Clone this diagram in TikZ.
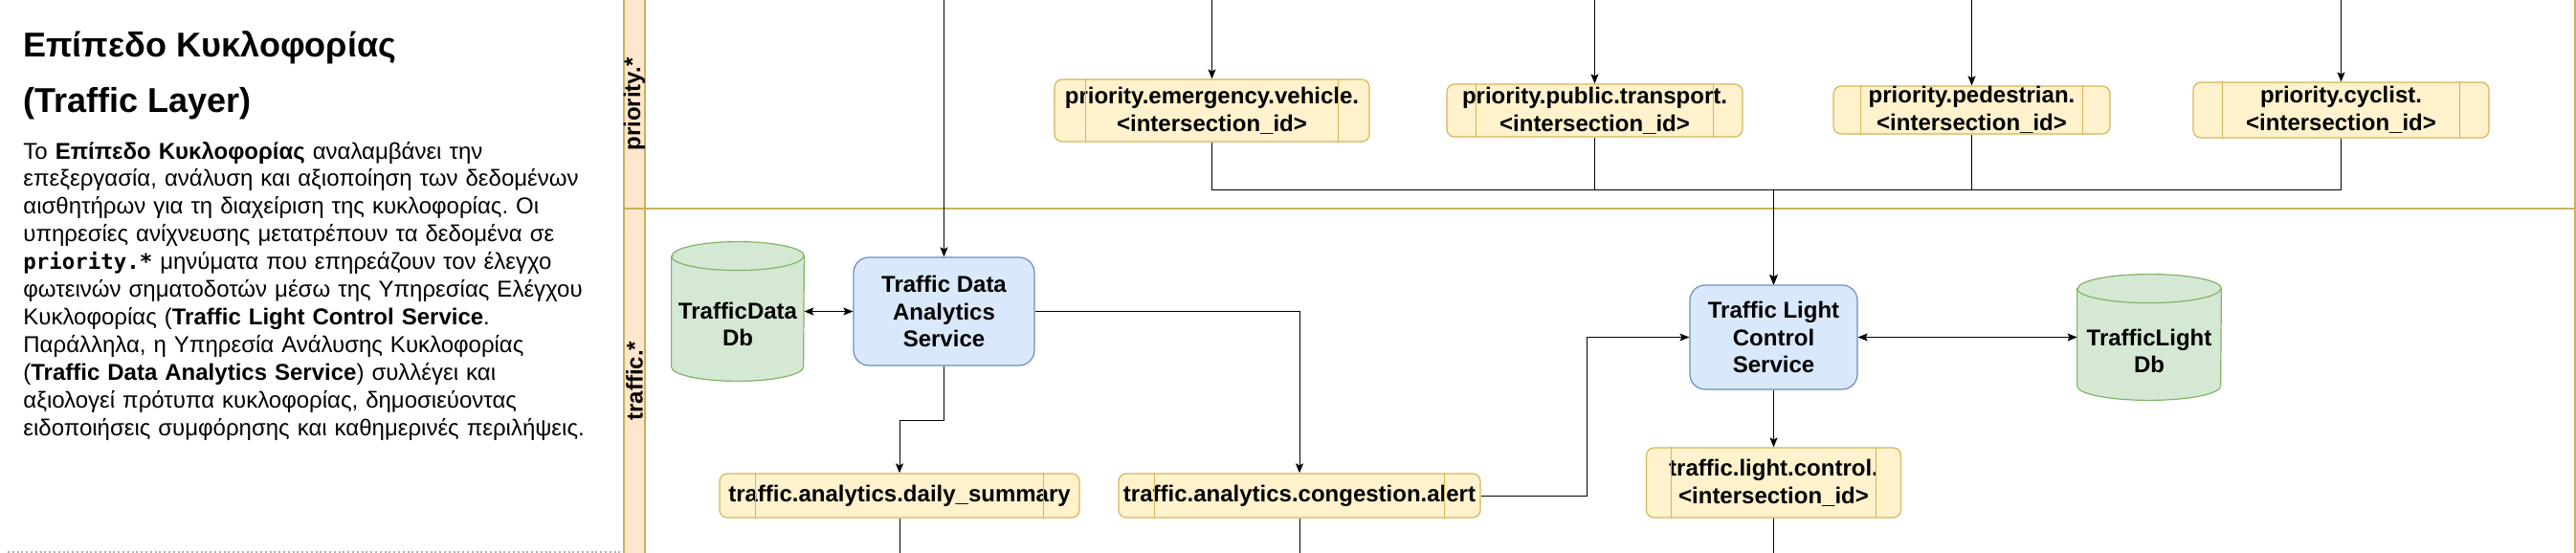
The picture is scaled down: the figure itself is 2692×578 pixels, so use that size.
\documentclass[tikz,border=0pt]{standalone}
\usepackage{fontspec}
\setmainfont{Liberation Sans}
\newfontfamily\monofont{DejaVu Sans Mono}
\usetikzlibrary{arrows.meta,calc}
\frenchspacing
\definecolor{procfill}{HTML}{FFF2CC}
\definecolor{procline}{HTML}{D6B656}
\definecolor{svcfill}{HTML}{DAE8FC}
\definecolor{svcline}{HTML}{6C8EBF}
\definecolor{dbfill}{HTML}{D5E8D4}
\definecolor{dbline}{HTML}{82B366}
\definecolor{lanefill}{HTML}{FFE6CC}
\definecolor{laneline}{HTML}{C9B25A}
\newcommand\drawcyl[3]{%
  \path[draw=dbline, fill=dbfill, line width=0.6pt]
    ($(#1.north west)+(0pt,-#3)$) -- ($(#1.south west)+(0pt,#3)$)
    arc[start angle=180,end angle=360,x radius=#2,y radius=#3]
    -- ($(#1.north east)+(0pt,-#3)$)
    arc[start angle=0,end angle=180,x radius=#2,y radius=#3] -- cycle;
  \draw[dbline, line width=0.6pt] ($(#1.north west)+(0pt,-#3)$)
    arc[start angle=180,end angle=360,x radius=#2,y radius=#3];}
\begin{document}
\begin{tikzpicture}[x=0.5pt,y=-0.5pt,
  boxfont/.style={font=\fontsize{12}{14.4}\selectfont\bfseries},
  sz/.style 2 args={minimum width=#1*0.5pt, minimum height=#2*0.5pt},
  proc/.style={draw=procline, fill=procfill, rounded corners=4pt, line width=0.6pt, align=center, inner sep=0pt, boxfont},
  svc/.style={draw=svcline, fill=svcfill, rounded corners=8pt, line width=0.6pt, align=center, inner sep=0pt, boxfont},
  cylbox/.style={inner sep=0pt},
  cyltext/.style={align=center, inner sep=0pt, boxfont},
  lanelabel/.style={rotate=90, inner sep=0pt, boxfont},
  conn/.style={line width=0.5pt, draw=black},
  tip/.tip={Stealth[length=5pt,width=4pt,inset=1pt]},
  arr/.style={conn, -tip},
  dbl/.style={conn, tip-tip},
]
\useasboundingbox (0,0) rectangle (2692,578);
\clip (0,0) rectangle (2692,578);

% lanes
\path[draw=laneline, fill=lanefill, line width=0.8pt] (652,-2) rectangle (674,600);
\draw[laneline, line width=0.8pt] (674,-2) -- (2691,-2) -- (2691,600);
\draw[laneline, line width=0.8pt] (652,218) -- (2691,218);
\node[lanelabel] (lanep) at (663,109) {priority.*};
\node[lanelabel] (lanet) at (663,398) {traffic.*};

% left text
\draw[gray!60, line width=1pt, dash pattern=on 1pt off 1.4pt] (8,577) -- (650,577);
\node[anchor=base west, inner sep=0pt, font=\fontsize{18}{29}\selectfont\bfseries] (title1) at (24,59) {Επίπεδο Κυκλοφορίας};
\node[anchor=base west, inner sep=0pt, font=\fontsize{18}{29}\selectfont\bfseries] (title2) at (24,117) {(Traffic Layer)};
\node[anchor=base west, inner sep=0pt, text width=320pt, align=left, font=\fontsize{12}{14.45}\selectfont] (body) at (24,166) {%
Το \textbf{Επίπεδο Κυκλοφορίας} αναλαμβάνει την\\
επεξεργασία, ανάλυση και αξιοποίηση των δεδομένων\\
αισθητήρων για τη διαχείριση της κυκλοφορίας. Οι\\
υπηρεσίες ανίχνευσης μετατρέπουν τα δεδομένα σε\\
{\monofont\bfseries\fontsize{11.2}{14.45}\selectfont priority.*} μηνύματα που επηρεάζουν τον έλεγχο\\
φωτεινών σηματοδοτών μέσω της Υπηρεσίας Ελέγχου\\
Κυκλοφορίας (\textbf{Traffic Light Control Service}.\\
Παράλληλα, η Υπηρεσία Ανάλυσης Κυκλοφορίας\\
(\textbf{Traffic Data Analytics Service}) συλλέγει και\\
αξιολογεί πρότυπα κυκλοφορίας, δημοσιεύοντας\\
ειδοποιήσεις συμφόρησης και καθημερινές περιλήψεις.};

% priority topics
\node[proc, sz={329}{65}] (em) at (1266.5,115.5) {priority.emergency.vehicle.\\<intersection\_id>};
\node[proc, sz={309}{55}] (pt) at (1666.5,115.5) {priority.public.transport.\\<intersection\_id>};
\node[proc, sz={289}{50}] (pd) at (2060.5,115) {priority.pedestrian.\\<intersection\_id>};
\node[proc, sz={309}{58}] (cy) at (2446.5,115) {priority.cyclist.\\<intersection\_id>};

% traffic lane
\node[cylbox, sz={138}{145}] (tdb) at (771,325.5) {};
\drawcyl{tdb}{34.5pt}{7.5pt}
\node[cyltext] (tdbl) at (771,339) {TrafficData\\Db};
\node[svc, sz={189}{113}] (tda) at (986.5,325.5) {Traffic Data\\Analytics\\Service};
\node[svc, sz={175}{109}] (tlc) at (1853.5,352.5) {Traffic Light\\Control\\Service};
\node[cylbox, sz={150}{131}] (tldb) at (2246,352.5) {};
\drawcyl{tldb}{37.5pt}{7.5pt}
\node[cyltext] (tldbl) at (2246,367) {TrafficLight\\Db};
\node[proc, sz={376}{46}] (ds) at (940,518) {traffic.analytics.daily\_summary};
\node[proc, sz={378}{46}] (ca) at (1358,518) {traffic.analytics.congestion.alert};
\node[proc, sz={266}{73}] (lc) at (1853.5,504.5) {traffic.light.control.\\<intersection\_id>};

\foreach \n in {em,pt,pd,cy,ds,ca,lc}{
  \draw[procline, line width=0.6pt]
    ($(\n.north west)!0.1!(\n.north east)$) -- ($(\n.south west)!0.1!(\n.south east)$)
    ($(\n.north east)!0.1!(\n.north west)$) -- ($(\n.south east)!0.1!(\n.south west)$);
}

% free ends
\coordinate (inA) at (986.5,-5);
\coordinate (inE) at (1266.5,-5);
\coordinate (inP) at (1666.5,-5);
\coordinate (inD) at (2060.5,-5);
\coordinate (inC) at (2446.5,-5);
\coordinate (bus) at (1853.5,198);
\coordinate (k1) at (940,439);
\coordinate (k2) at (1658,518);
\coordinate (outS) at (940,590);
\coordinate (outA) at (1358,590);
\coordinate (outL) at (1853.5,590);

% connectors
\draw[arr] (inA) -- (tda.north);
\draw[arr] (inE) -- (em.north);
\draw[arr] (inP) -- (pt.north);
\draw[arr] (inD) -- (pd.north);
\draw[arr] (inC) -- (cy.north);
\draw[arr] (em.south) |- (bus) -- (tlc.north);
\draw[arr] (pt.south) |- (bus) -- (tlc.north);
\draw[arr] (pd.south) |- (bus) -- (tlc.north);
\draw[arr] (cy.south) |- (bus) -- (tlc.north);
\draw[dbl] (tdb.east) -- (tda.west);
\draw[arr] (tda.east) -| (ca.north);
\draw[arr] (tda.south) |- (k1) -- (ds.north);
\draw[arr] (ca.east) -- (k2) |- (tlc.west);
\draw[dbl] (tlc.east) -- (tldb.west);
\draw[arr] (tlc.south) -- (lc.north);
\draw[conn] (ds.south) -- (outS);
\draw[conn] (ca.south) -- (outA);
\draw[conn] (lc.south) -- (outL);
\end{tikzpicture}
\end{document}
